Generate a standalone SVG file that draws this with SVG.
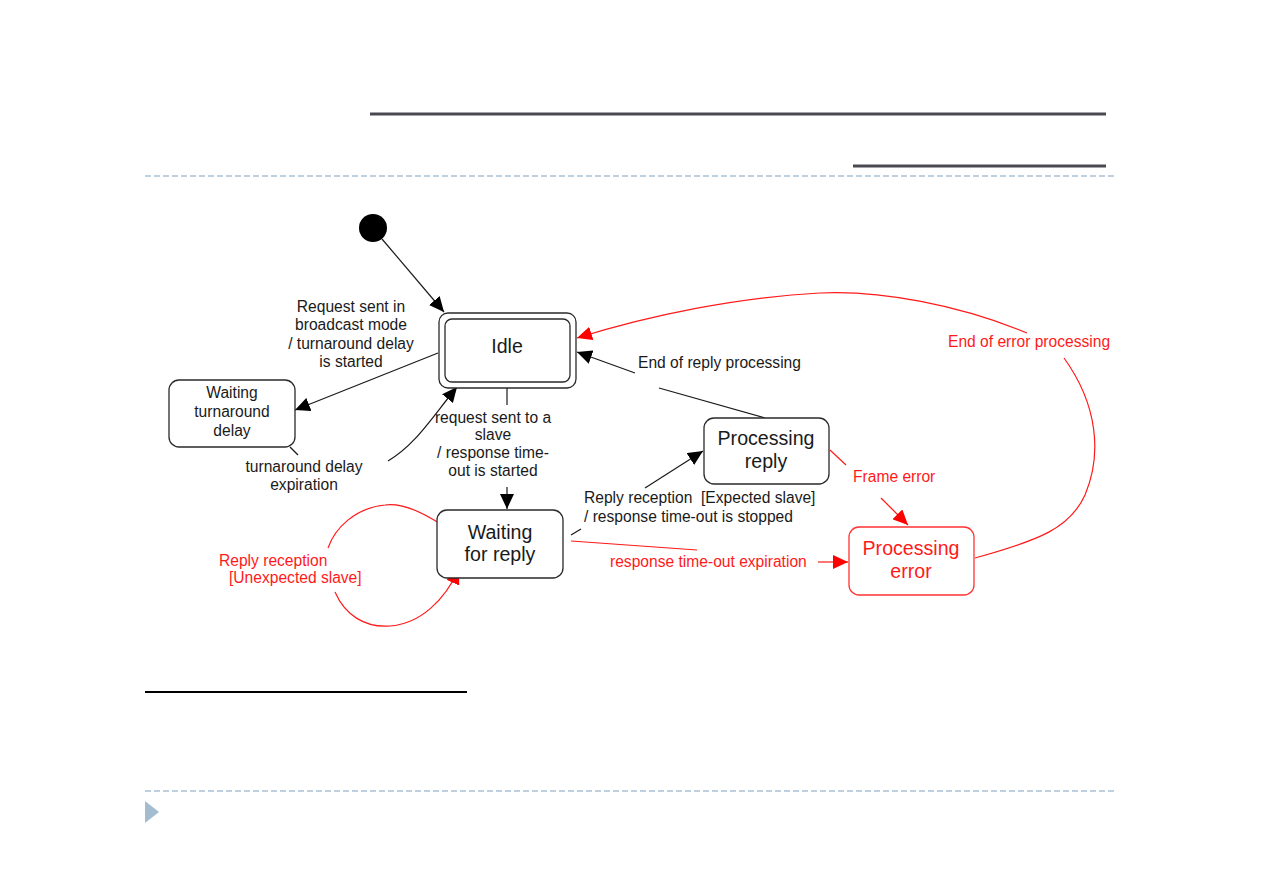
<svg xmlns="http://www.w3.org/2000/svg" width="1263" height="893" viewBox="0 0 1263 893">
<style>
.t{font-family:"Liberation Sans",Arial,sans-serif;font-size:15.6px;fill:#1a1a1a}
.tr{font-family:"Liberation Sans",Arial,sans-serif;font-size:15.6px;fill:#ff1a1a}
.big{font-size:19.6px}
.box{fill:#fff;stroke:#2a2a2a;stroke-width:1.3}
.rbox{fill:#fff;stroke:#ff3333;stroke-width:1.3}
.c{fill:none;stroke:#1a1a1a;stroke-width:1.2}
.cr{fill:none;stroke:#ff1a1a;stroke-width:1.2}
.dash{stroke:#a9c1d6;stroke-width:1.5;stroke-dasharray:6 3;fill:none}
</style>
<defs>
<marker id="ab" markerUnits="userSpaceOnUse" markerWidth="16" markerHeight="14" refX="15" refY="7" orient="auto"><path d="M0,0 L15,7 L0,14 Z" fill="#000"/></marker>
<marker id="ar" markerUnits="userSpaceOnUse" markerWidth="16" markerHeight="14" refX="15" refY="7" orient="auto"><path d="M0,0 L15,7 L0,14 Z" fill="#ff0000"/></marker>
</defs>
<rect width="1263" height="893" fill="#fff"/>
<g id="frame">
<line x1="370" y1="114" x2="1106" y2="114" stroke="#4a4850" stroke-width="3"/>
<line x1="853" y1="166" x2="1106" y2="166" stroke="#4a4850" stroke-width="3"/>
<line class="dash" x1="145" y1="176" x2="1117" y2="176"/>
<line x1="145" y1="692" x2="467" y2="692" stroke="#000" stroke-width="2"/>
<line class="dash" x1="145" y1="791" x2="1117" y2="791"/>
<polygon points="145,801 159,812 145,823" fill="#a3bcd0"/>
</g>
<g id="connectors">
<line class="c" x1="382" y1="239" x2="444" y2="312" marker-end="url(#ab)"/>
<line class="c" x1="438" y1="353" x2="295" y2="410" marker-end="url(#ab)"/>
<line class="c" x1="290" y1="447" x2="298" y2="455"/>
<path class="c" d="M388,461 C415,445 430,420 457,387" marker-end="url(#ab)"/>
<line class="c" x1="507" y1="383" x2="507" y2="405"/>
<line class="c" x1="507" y1="487" x2="507" y2="509" marker-end="url(#ab)"/>
<line class="c" x1="571" y1="535" x2="581" y2="529"/>
<line class="c" x1="645" y1="488" x2="703" y2="451" marker-end="url(#ab)"/>
<line class="c" x1="765" y1="418" x2="659" y2="388"/>
<line class="c" x1="635" y1="373" x2="577" y2="352" marker-end="url(#ab)"/>
<line class="cr" x1="830" y1="450" x2="846" y2="465"/>
<line class="cr" x1="881" y1="498" x2="908" y2="525" marker-end="url(#ar)"/>
<line class="cr" x1="571" y1="541" x2="697" y2="550"/>
<line class="cr" x1="818" y1="562" x2="848" y2="562" marker-end="url(#ar)"/>
<path class="cr" d="M975,558 C1040,540 1070,528 1085,495 C1102,455 1098,405 1064,358"/>
<path class="cr" d="M1027,333 C960,305 880,290 820,293 C740,297 650,315 577,338" marker-end="url(#ar)"/>
<path class="cr" d="M445,527 C420,510 400,503 385,505 C355,508 335,528 328,548"/>
<path class="cr" d="M335,592 C345,615 365,628 390,626 C420,624 445,600 459,569" marker-end="url(#ar)"/>
<text class="t" text-anchor="middle"><tspan x="351" y="312">Request sent in</tspan><tspan x="351" y="330">broadcast mode</tspan><tspan x="351" y="349">/ turnaround delay</tspan><tspan x="351" y="367">is started</tspan></text>
<text class="t" text-anchor="middle"><tspan x="304" y="472">turnaround delay</tspan><tspan x="304" y="490">expiration</tspan></text>
<text class="t" text-anchor="middle"><tspan x="493" y="423">request sent to a</tspan><tspan x="493" y="440">slave</tspan><tspan x="493" y="458">/ response time-</tspan><tspan x="493" y="476">out is started</tspan></text>
<text class="t" style="white-space:pre"><tspan x="584" y="503">Reply reception  [Expected slave]</tspan><tspan x="584" y="522">/ response time-out is stopped</tspan></text>
<text class="t" x="638" y="368">End of reply processing</text>
<text class="tr" x="853" y="482">Frame error</text>
<text class="tr" x="610" y="567">response time-out expiration</text>
<text class="tr" x="948" y="347">End of error processing</text>
<text class="tr"><tspan x="219" y="566">Reply reception</tspan><tspan x="229" y="583">[Unexpected slave]</tspan></text>
</g>
<g id="initial"><circle cx="373" cy="228" r="14" fill="#000"/></g>
<g id="idle">
<rect class="box" x="439" y="313" width="137" height="75" rx="9"/>
<rect class="box" x="445" y="319" width="125" height="63" rx="7"/>
<text class="t big" x="507" y="353" text-anchor="middle">Idle</text>
</g>
<g id="waiting-turnaround">
<rect class="box" x="169" y="380" width="126" height="67" rx="10"/>
<text class="t" text-anchor="middle"><tspan x="232" y="398">Waiting</tspan><tspan x="232" y="417">turnaround</tspan><tspan x="232" y="436">delay</tspan></text>
</g>
<g id="waiting-reply">
<rect class="box" x="437" y="510" width="126" height="68" rx="10"/>
<text class="t big" text-anchor="middle"><tspan x="500" y="539">Waiting</tspan><tspan x="500" y="561">for reply</tspan></text>
</g>
<g id="processing-reply">
<rect class="box" x="704" y="418" width="125" height="66" rx="10"/>
<text class="t big" text-anchor="middle"><tspan x="766" y="445">Processing</tspan><tspan x="766" y="468">reply</tspan></text>
</g>
<g id="processing-error">
<rect class="rbox" x="849" y="527" width="125" height="68" rx="10"/>
<text class="tr big" text-anchor="middle"><tspan x="911" y="555">Processing</tspan><tspan x="911" y="578">error</tspan></text>
</g>
</svg>
